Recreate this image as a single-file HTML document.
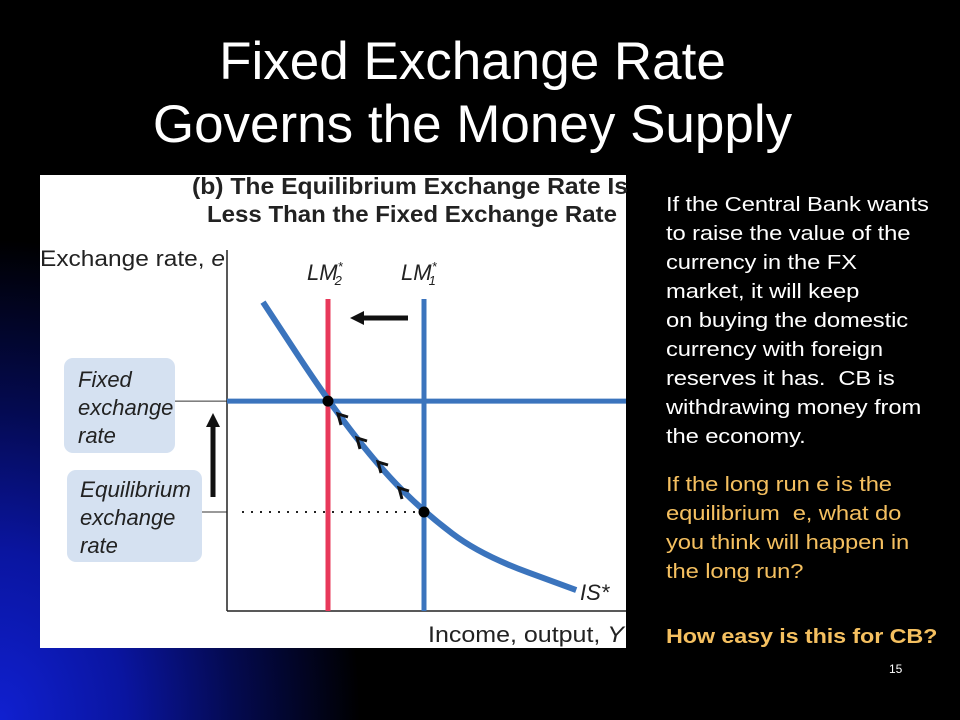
<!DOCTYPE html>
<html><head><meta charset="utf-8"><style>
html,body{margin:0;padding:0}
body{width:960px;height:720px;position:relative;overflow:hidden;background:#000;font-family:"Liberation Sans",sans-serif}
#bg{position:absolute;inset:0;background:radial-gradient(ellipse 360px 480px at 0px 720px,#1020d0 0%,#0a15a0 35%,#040a50 65%,rgba(0,0,0,0) 100%)}
.title{position:absolute;left:0;width:945px;text-align:center;color:#fff;font-size:53px;line-height:60px}
.rt{position:absolute;left:666px;width:340px;font-size:20.5px;line-height:29px;color:#fff;transform-origin:0 0;white-space:nowrap;letter-spacing:-0.1px}
</style></head><body>
<div id="bg"></div>
<div class="title" style="top:32px">Fixed Exchange Rate</div>
<div class="title" style="top:95px">Governs the Money Supply</div>
<svg style="position:absolute;left:0;top:0" width="960" height="720">
<rect x="40" y="175" width="586" height="473" fill="#fff"/>
<g font-family="Liberation Sans, sans-serif" font-weight="bold" fill="#222" font-size="23" text-anchor="end">
<text x="628" y="194" textLength="436" lengthAdjust="spacingAndGlyphs">(b) The Equilibrium Exchange Rate Is</text>
<text x="617" y="222" textLength="410" lengthAdjust="spacingAndGlyphs">Less Than the Fixed Exchange Rate</text>
</g>
<text x="40" y="266" font-size="22" fill="#222" textLength="185" lengthAdjust="spacingAndGlyphs">Exchange rate, <tspan font-style="italic">e</tspan></text>
<text x="624" y="642" font-size="22" fill="#222" text-anchor="end" textLength="196" lengthAdjust="spacingAndGlyphs">Income, output, <tspan font-style="italic">Y</tspan></text>
<rect x="64" y="358" width="111" height="95" rx="9" fill="#d5e1f1"/>
<rect x="67" y="470" width="135" height="92" rx="9" fill="#d5e1f1"/>
<g font-size="22" font-style="italic" fill="#222">
<text x="78" y="387">Fixed</text><text x="78" y="415">exchange</text><text x="78" y="443">rate</text>
<text x="80" y="497" textLength="111" lengthAdjust="spacingAndGlyphs">Equilibrium</text><text x="80" y="525">exchange</text><text x="80" y="553">rate</text>
</g>
<g id="plot"></g>
</svg>
<div class="rt" style="top:190px;transform:scaleX(1.16)">If the Central Bank wants<br>to raise the value of the<br>currency in the FX<br>market, it will keep<br>on buying the domestic<br>currency with foreign<br>reserves it has.&nbsp; CB is<br>withdrawing money from<br>the economy.</div>
<div class="rt" style="top:470px;color:#f5c060;transform:scaleX(1.16)">If the long run e is the<br>equilibrium&nbsp; e, what do<br>you think will happen in<br>the long run?</div>
<div class="rt" style="top:622px;color:#f5c060;font-weight:bold;transform:scaleX(1.14)">How easy is this for CB?</div>
<div style="position:absolute;left:889px;top:662px;color:#fff;font-size:12px">15</div>
<script>
const isX=[0.9,2.525,3.83,4.925,6.33,8.73];
const isY=[8.58,5.83,3.97,2.75,1.56,0.58];
const lm2=2.525, lm1=4.925, fixedE=5.83, eqE=2.75;
const xs=v=>227+v*40, ys=v=>611-v*36;
const NS="http://www.w3.org/2000/svg", g=document.getElementById('plot');
function mk(t,a,name){const e=document.createElementNS(NS,t);for(const k in a)e.setAttribute(k,a[k]);


g.appendChild(e);return e;}
mk('line',{x1:175,y1:ys(fixedE),x2:227,y2:ys(fixedE),stroke:'#333','stroke-width':1},'fixed-connector');
mk('line',{x1:202,y1:ys(eqE),x2:227,y2:ys(eqE),stroke:'#333','stroke-width':1},'eq-connector');
mk('line',{x1:227,y1:250,x2:227,y2:611,stroke:'#222','stroke-width':1.5},'y-axis');
mk('line',{x1:227,y1:611,x2:626,y2:611,stroke:'#222','stroke-width':1.5},'x-axis');
mk('line',{x1:xs(lm2),y1:299,x2:xs(lm2),y2:611,stroke:'#e8385a','stroke-width':5},'lm2-line');
mk('line',{x1:xs(lm1),y1:299,x2:xs(lm1),y2:611,stroke:'#3b74bd','stroke-width':5},'lm1-line');
mk('line',{x1:227,y1:ys(fixedE),x2:626,y2:ys(fixedE),stroke:'#3b74bd','stroke-width':5},'fixed-rate-line');
mk('line',{x1:242,y1:ys(eqE),x2:xs(lm1),y2:ys(eqE),stroke:'#222','stroke-width':2,'stroke-dasharray':'2,7'},'eq-dotted-line');
let d='M'+xs(isX[0])+','+ys(isY[0]);
for(let i=1;i<isX.length;i++){const px=xs(isX[i-1]),py=ys(isY[i-1]),cx=xs(isX[i]),cy=ys(isY[i]);d+=' Q'+px+','+py+' '+((px+cx)/2)+','+((py+cy)/2);}
d+=' L'+xs(isX[isX.length-1])+','+ys(isY[isY.length-1]);
mk('path',{d:d,fill:'none',stroke:'#3b74bd','stroke-width':6},'is-curve');
mk('circle',{cx:xs(lm2),cy:ys(fixedE),r:5.5,fill:'#000'},'point-fixed');
mk('circle',{cx:xs(lm1),cy:ys(eqE),r:5.5,fill:'#000'},'point-equilibrium');
[[338,414],[357,438],[378,462],[399,488]].forEach((p,i)=>{mk('path',{d:`M${p[0]+3},${p[1]+11} L${p[0]},${p[1]} L${p[0]+10},${p[1]+3}`,fill:'none',stroke:'#111','stroke-width':3},'shift-arrow-'+i);});
mk('line',{x1:408,y1:318,x2:362,y2:318,stroke:'#111','stroke-width':5},'left-arrow-shaft');
mk('path',{d:'M350,318 L364,311 L364,325 Z',fill:'#111'},'left-arrow-head');
mk('line',{x1:213,y1:497,x2:213,y2:425,stroke:'#111','stroke-width':5},'up-arrow-shaft');
mk('path',{d:'M213,413 L206,427 L220,427 Z',fill:'#111'},'up-arrow-head');
const lab=(x,y,t,s,n)=>{const e=mk('text',{x:x,y:y,'font-size':22,'font-style':'italic',fill:'#222'},n);e.innerHTML=t+(s?`<tspan font-size="13" dy="-9">*</tspan><tspan font-size="13" dx="-8" dy="14">${s}</tspan>`:'');};
lab(307,280,'LM','2','lm2-label');
lab(401,280,'LM','1','lm1-label');
lab(580,600,'IS*','','is-label');
</script>
</body></html>
